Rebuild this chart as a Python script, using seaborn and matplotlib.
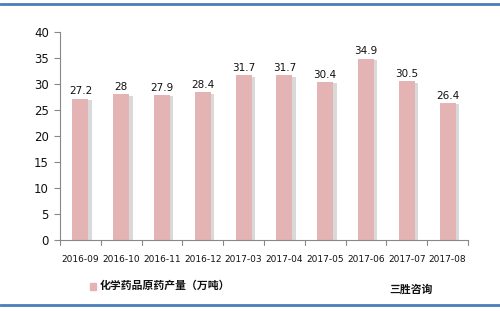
import matplotlib
matplotlib.use("Agg")
import matplotlib.pyplot as plt
import matplotlib.patheffects as pe
from matplotlib.lines import Line2D
from matplotlib.patches import Rectangle
import seaborn as sns
import pandas as pd

categories = ["2016-09", "2016-10", "2016-11", "2016-12", "2017-03",
              "2017-04", "2017-05", "2017-06", "2017-07", "2017-08"]
values = [27.2, 28, 27.9, 28.4, 31.7, 31.7, 30.4, 34.9, 30.5, 26.4]
labels = ["27.2", "28", "27.9", "28.4", "31.7", "31.7", "30.4", "34.9", "30.5", "26.4"]
yticks = [0, 5, 10, 15, 20, 25, 30, 35, 40]
series_name = "化学药品原药产量（万吨）"
source = "三胜咨询"

sns.set_theme(style="white")
plt.rcParams['font.family'] = ['DejaVu Sans', 'Noto Sans CJK SC']

W, H = 500, 311
fig = plt.figure(figsize=(W / 100, H / 100), dpi=100)
ax = fig.add_axes([60 / W, 1 - 240 / H, (468 - 60) / W, (240 - 32) / H])

df = pd.DataFrame({"cat": categories, "val": values})
bar_color = "#E4B4B4"
sns.barplot(data=df, x="cat", y="val", color=bar_color, width=0.39,
            saturation=1, ax=ax, edgecolor="none")
for p in ax.patches:
    p.set_path_effects([pe.SimplePatchShadow(offset=(2.5, -1), shadow_rgbFace="#D9D9D9", alpha=1),
                        pe.Normal()])

ax.set_ylim(0, 40)
ax.set_xlim(-0.5, len(categories) - 0.5)
ax.set_yticks(yticks)
ax.set_yticklabels([str(t) for t in yticks], fontsize=8.5, color="#111111")
ax.set_xlabel("")
ax.set_ylabel("")
ax.set_xticks(range(len(categories)))
ax.set_xticklabels(categories, fontsize=6.5, color="#111111")
ax.tick_params(axis="x", length=0, pad=11)
ax.tick_params(axis="y", length=4, width=0.8, color="#888888", direction="out", left=True, pad=4)

# boundary tick marks on x axis
for i in range(len(categories) + 1):
    ax.plot([i - 0.5, i - 0.5], [0, -0.9], color="#888888", lw=0.8, clip_on=False)

for s in ["top", "right"]:
    ax.spines[s].set_visible(False)
for s in ["left", "bottom"]:
    ax.spines[s].set_color("#888888")
    ax.spines[s].set_linewidth(0.8)
ax.grid(False)

for i, (v, lab) in enumerate(zip(values, labels)):
    ax.text(i, v + 0.4, lab, ha="center", va="bottom", fontsize=7.5, color="#111111")

# legend & source
fig.patches.append(Rectangle((90 / W, 1 - 290 / H), 6 / W, 7 / H,
                             transform=fig.transFigure, color=bar_color))
fig.text(100 / W, 1 - 286 / H, series_name, fontsize=7.8, fontweight="bold",
         family=["Noto Sans CJK SC", "DejaVu Sans"], va="center", ha="left", color="#111111")
fig.text(389 / W, 1 - 289 / H, source, fontsize=7.8, fontweight="bold",
         family=["Noto Sans CJK SC", "DejaVu Sans"], va="center", ha="left", color="#111111")

# blue border lines
for y in [3.5, 305]:
    fig.add_artist(Line2D([0, 1], [1 - y / H, 1 - y / H], transform=fig.transFigure,
                          color="#4A7EBB", lw=2))

fig.savefig("out.png", dpi=100)
